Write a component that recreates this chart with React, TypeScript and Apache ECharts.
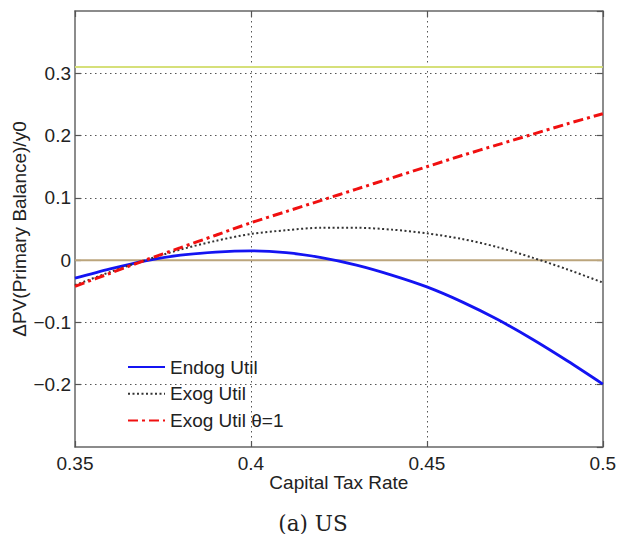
import React, { useEffect, useRef } from "react";
import * as echarts from "echarts";

// Capital tax rate grid (x axis)
const taxRates = [0.35, 0.36, 0.37, 0.38, 0.39, 0.4, 0.41, 0.42, 0.43, 0.44, 0.45, 0.46, 0.47, 0.48, 0.49, 0.5];

// ΔPV(Primary Balance)/y0 for each model variant
const endogUtil = [-0.029, -0.014, -0.001, 0.008, 0.013, 0.015, 0.012, 0.004, -0.008, -0.024, -0.043, -0.067, -0.095, -0.127, -0.162, -0.199];
const exogUtil = [-0.04, -0.019, 0.0, 0.017, 0.031, 0.042, 0.048, 0.052, 0.052, 0.049, 0.043, 0.034, 0.021, 0.004, -0.015, -0.036];
const exogUtilTheta1 = [-0.042, -0.021, 0.0, 0.02, 0.04, 0.06, 0.078, 0.096, 0.114, 0.132, 0.15, 0.168, 0.185, 0.202, 0.219, 0.235];

// Horizontal reference levels
const referenceLevels = [0.31, 0];
const referenceColors = ["#d6e07a", "#bba57c"];

const seriesNames = ["Endog Util", "Exog Util", "Exog Util \u03b8=1"];

const FONT = "'Liberation Sans', Arial, Helvetica, sans-serif";

const pairs = (ys: number[]) => taxRates.map((x, i) => [x, ys[i]]);

const fmtY = (v: number) => {
  const r = Number(v.toFixed(2));
  return r < 0 ? "\u2212" + String(Math.abs(r)) : String(r);
};

export default function App() {
  const ref = useRef<HTMLDivElement>(null);

  useEffect(() => {
    if (!ref.current) return;
    const chart = echarts.init(ref.current, undefined, { renderer: "svg" });

    const boxLine = { show: true, onZero: false, lineStyle: { color: "#666", width: 1.5 } };
    const tick = { show: true, inside: true, length: 6, lineStyle: { color: "#555", width: 1.2 } };
    const grid = {
      show: true,
      showMinLine: false,
      showMaxLine: false,
      lineStyle: { color: "#555", width: 1, type: [1.5, 3.5] as number[] },
    };

    const xBase = { type: "value" as const, min: 0.35, max: 0.5, interval: 0.05 };
    const yBase = { type: "value" as const, min: -0.3, max: 0.4, interval: 0.1 };

    chart.setOption({
      animation: false,
      backgroundColor: "#ffffff",
      grid: { left: 75, right: 13, top: 11, bottom: 87, containLabel: false },
      xAxis: [
        {
          ...xBase,
          position: "bottom",
          axisLine: boxLine,
          axisTick: tick,
          splitLine: grid,
          axisLabel: { color: "#222", fontFamily: FONT, fontSize: 19, margin: 7 },
          name: "Capital Tax Rate",
          nameLocation: "middle",
          nameGap: 26,
          nameMoveOverlap: false,
          nameTextStyle: { color: "#222", fontFamily: FONT, fontSize: 19 },
        },
        {
          ...xBase,
          position: "top",
          axisLine: boxLine,
          axisTick: tick,
          splitLine: { show: false },
          axisLabel: { show: false },
        },
      ],
      yAxis: [
        {
          ...yBase,
          position: "left",
          axisLine: boxLine,
          axisTick: tick,
          splitLine: grid,
          axisLabel: {
            color: "#222",
            fontFamily: FONT,
            fontSize: 19,
            margin: 4,
            showMinLabel: false,
            showMaxLabel: false,
            formatter: fmtY,
          },
        },
        {
          ...yBase,
          position: "right",
          axisLine: boxLine,
          axisTick: tick,
          splitLine: { show: false },
          axisLabel: { show: false },
        },
      ],
      legend: {
        data: seriesNames,
        orient: "vertical",
        left: 122,
        top: 352,
        itemWidth: 37,
        itemHeight: 20,
        itemGap: 6.7,
        itemStyle: { opacity: 0 },
        textStyle: { color: "#222", fontFamily: FONT, fontSize: 19, lineHeight: 20 },
        backgroundColor: "transparent",
      },
      graphic: [
        {
          type: "text",
          x: 19,
          y: 229,
          rotation: Math.PI / 2,
          style: {
            text: "\u0394PV(Primary Balance)/y0",
            fontFamily: FONT,
            fontSize: 19,
            fill: "#222",
            align: "center",
            verticalAlign: "middle",
          },
        },
        {
          type: "text",
          x: 313,
          y: 523,
          style: {
            text: "(a) US",
            fontFamily: "'DejaVu Serif', 'Liberation Serif', serif",
            fontSize: 21.5,
            fill: "#222",
            align: "center",
            verticalAlign: "middle",
          },
        },
      ],
      series: [
        ...referenceLevels.map((lvl, i) => ({
          name: "ref" + i,
          type: "line",
          data: [
            [taxRates[0], lvl],
            [taxRates[taxRates.length - 1], lvl],
          ],
          symbol: "none",
          lineStyle: { color: referenceColors[i], width: 2 },
          z: 1,
        })),
        {
          name: seriesNames[0],
          type: "line",
          data: pairs(endogUtil),
          smooth: 0.3,
          symbol: "none",
          lineStyle: { color: "#1414f2", width: 2.8, type: "solid" },
          itemStyle: { color: "#1414f2" },
          z: 3,
        },
        {
          name: seriesNames[1],
          type: "line",
          data: pairs(exogUtil),
          smooth: 0.3,
          symbol: "none",
          lineStyle: { color: "#333", width: 2, type: [2, 2.5] },
          itemStyle: { color: "#333" },
          z: 4,
        },
        {
          name: seriesNames[2],
          type: "line",
          data: pairs(exogUtilTheta1),
          smooth: 0.3,
          symbol: "none",
          lineStyle: { color: "#f01010", width: 3, type: [10, 4, 3, 4] },
          itemStyle: { color: "#f01010" },
          z: 5,
        },
      ],
    });

    return () => chart.dispose();
  }, []);

  return (
    <div
      ref={ref}
      style={{ position: "fixed", left: 0, top: 0, width: 619, height: 534, background: "#fff" }}
    />
  );
}
